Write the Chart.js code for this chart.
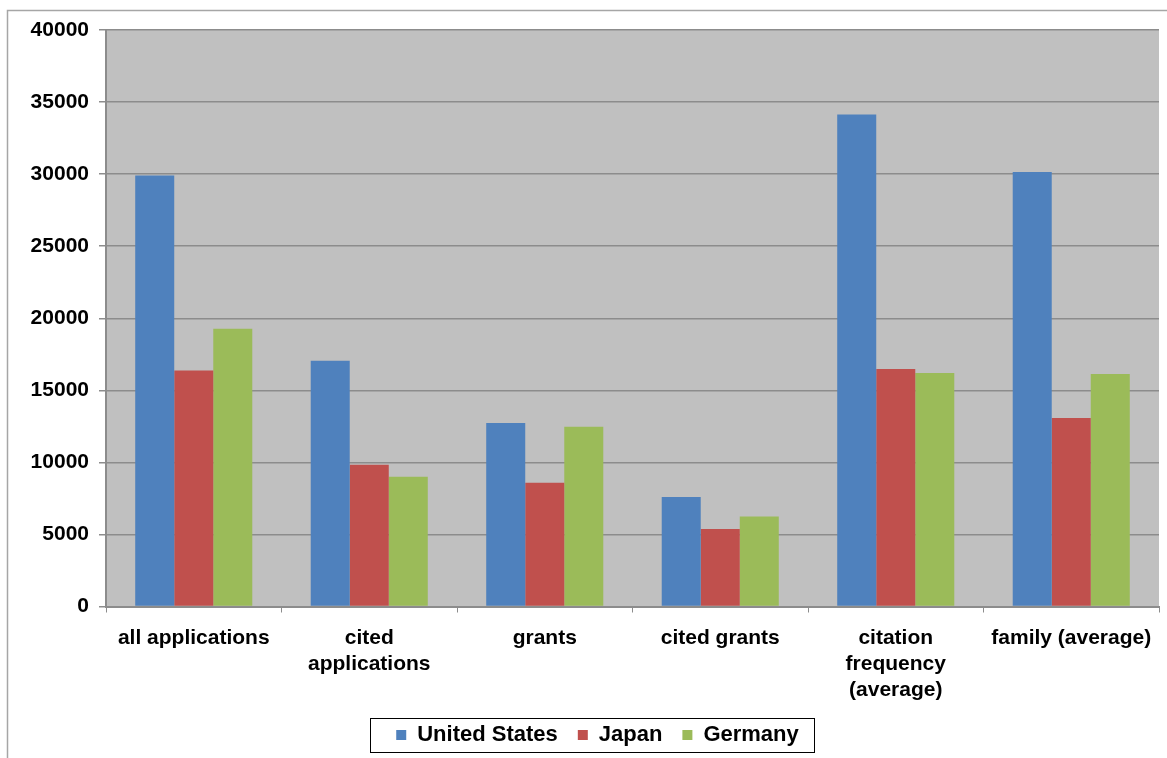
<!DOCTYPE html>
<html>
<head>
<meta charset="utf-8">
<script src="https://cdn.jsdelivr.net/npm/chart.js@4.4.1/dist/chart.umd.min.js"></script>
<style>
  html, body { margin: 0; padding: 0; background: #ffffff; }
  #wrap { width: 1167px; height: 758px; position: relative; }
</style>
</head>
<body>
<div id="wrap"><canvas id="c" width="1167" height="758"></canvas></div>
<script>
const categories = [
  "all applications",
  ["cited", "applications"],
  "grants",
  "cited grants",
  ["citation", "frequency", "(average)"],
  "family (average)"
];
const seriesNames = ["United States", "Japan", "Germany"];
const unitedStates = [29900, 17050, 12730, 7600, 34140, 30150];
const japan = [16370, 9830, 8580, 5370, 16480, 13080];
const germany = [19270, 9000, 12470, 6240, 16200, 16140];
const yTicks = [0, 5000, 10000, 15000, 20000, 25000, 30000, 35000, 40000];

const colors = ["#4f81bd", "#c0504d", "#9bbb59"];
const FONT = "'Liberation Sans', Arial, sans-serif";
const LEGEND_SHIFT_X = 18;

const framePlugin = {
  id: 'frame',
  afterUpdate(chart) {
    const lg = chart.legend;
    if (!lg) return;
    lg.left += LEGEND_SHIFT_X;
    lg.right += LEGEND_SHIFT_X;
    if (lg.legendHitBoxes) lg.legendHitBoxes.forEach(h => { h.left += LEGEND_SHIFT_X; });
  },
  beforeDraw(chart) {
    const ctx = chart.ctx, a = chart.chartArea;
    ctx.save();
    ctx.fillStyle = '#ffffff';
    ctx.fillRect(0, 0, chart.width, chart.height);
    ctx.strokeStyle = '#a6a6a6';
    ctx.lineWidth = 1.5;
    ctx.beginPath();
    ctx.moveTo(7.5, chart.height + 2);
    ctx.lineTo(7.5, 10.5);
    ctx.lineTo(chart.width + 2, 10.5);
    ctx.stroke();
    ctx.fillStyle = '#c0c0c0';
    ctx.fillRect(a.left, a.top, a.right - a.left, a.bottom - a.top);
    ctx.restore();
  },
  afterDraw(chart) {
    const lg = chart.legend;
    if (!lg || !lg.legendHitBoxes || !lg.legendHitBoxes.length) return;
    const hb = lg.legendHitBoxes;
    let l = Infinity, r = -Infinity, t = Infinity, b = -Infinity;
    hb.forEach(h => { l = Math.min(l, h.left); r = Math.max(r, h.left + h.width); t = Math.min(t, h.top); b = Math.max(b, h.top + h.height); });
    const ctx = chart.ctx;
    ctx.save();
    ctx.strokeStyle = '#000000';
    ctx.lineWidth = 1;
    const cy = (t + b) / 2;
    ctx.strokeRect(Math.round(l - 26) + 0.5, Math.round(cy - 17) + 0.5, Math.round(r - l + 41), 34);
    ctx.restore();
  }
};

new Chart(document.getElementById('c'), {
  type: 'bar',
  data: {
    labels: categories,
    datasets: [
      { label: seriesNames[0], data: unitedStates, backgroundColor: colors[0], borderWidth: 0 },
      { label: seriesNames[1], data: japan, backgroundColor: colors[1], borderWidth: 0 },
      { label: seriesNames[2], data: germany, backgroundColor: colors[2], borderWidth: 0 }
    ]
  },
  options: {
    responsive: false,
    animation: false,
    devicePixelRatio: 1,
    layout: { padding: { left: 0, top: 30, right: 8, bottom: 2 } },
    datasets: { bar: { categoryPercentage: 0.667, barPercentage: 1.0 } },
    plugins: {
      legend: {
        position: 'bottom',
        labels: {
          font: { family: FONT, size: 22, weight: 'bold' },
          color: '#000000',
          boxWidth: 10,
          boxHeight: 10,
          padding: 20
        }
      },
      tooltip: { enabled: false }
    },
    scales: {
      x: {
        grid: { display: true, offset: true, drawOnChartArea: false, drawTicks: true, tickLength: 6, color: '#8c8c8c', lineWidth: 1 },
        border: { display: true, color: '#8c8c8c', width: 2 },
        ticks: {
          font: { family: FONT, size: 21, weight: 'bold', lineHeight: 1.24 },
          color: '#000000',
          padding: 13,
          maxRotation: 0,
          autoSkip: false
        },
        afterFit(scale) { scale.height = 97.5; }
      },
      y: {
        min: 0,
        max: 40000,
        afterBuildTicks(scale) { scale.ticks = yTicks.map(v => ({ value: v })); },
        grid: { color: '#8c8c8c', lineWidth: 1.5, tickLength: 7, drawTicks: true },
        border: { display: true, color: '#8c8c8c', width: 2 },
        ticks: {
          font: { family: FONT, size: 21, weight: 'bold' },
          color: '#000000',
          padding: 10,
          callback: (v) => String(v)
        },
        afterFit(scale) { scale.width = 106; }
      }
    }
  },
  plugins: [framePlugin]
});
</script>
</body>
</html>
